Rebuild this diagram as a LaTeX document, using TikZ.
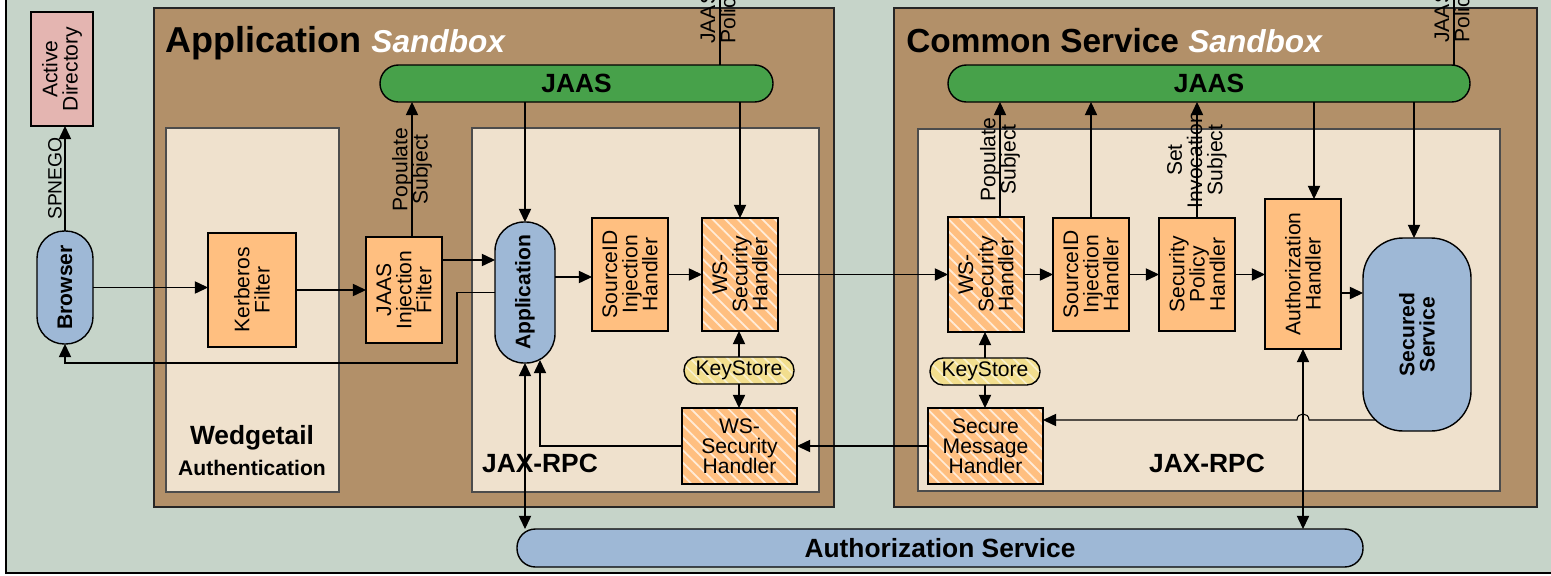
\documentclass[tikz,border=0pt]{standalone}
\usepackage{fontspec}
\setmainfont{Liberation Sans}
\usepackage{xcolor}
\usepackage{tikz}
\usetikzlibrary{shapes,arrows.meta,patterns.meta}

\definecolor{bgcol}{HTML}{C6D4C9}
\definecolor{sandcol}{HTML}{B29069}
\definecolor{innercol}{HTML}{EFE1CD}
\definecolor{handlercol}{HTML}{FFBF80}
\definecolor{svccol}{HTML}{9EB8D6}
\definecolor{jaascol}{HTML}{47A14A}
\definecolor{dircol}{HTML}{E4B5B1}
\definecolor{keycol}{HTML}{F2DE8E}

\tikzset{size/.style 2 args={minimum width=#1*0.02cm, minimum height=#2*0.02cm}}
\tikzstyle{box}=[rectangle, draw=black, line width=0.8pt, inner sep=0pt, outer sep=0pt]
\tikzstyle{handler}=[box, fill=handlercol]
\tikzstyle{hatched}=[box, preaction={fill=handlercol}, pattern={Lines[angle=-45,distance=5pt,line width=1pt]}, pattern color=white!70!handlercol]
\tikzstyle{keystore}=[box, rounded corners=7.5pt, preaction={fill=keycol}, pattern={Lines[angle=-45,distance=5pt,line width=1pt]}, pattern color=white!55!keycol]
\tikzstyle{svc}=[box, fill=svccol]
\tikzstyle{jaas}=[box, fill=jaascol, rounded corners=10.5pt]
\tikzstyle{sandbox}=[draw=black!85, line width=1.1pt, fill=sandcol]
\tikzstyle{innerbox}=[draw=black!70, line width=0.6pt, fill=innercol]
\tikzstyle{wire}=[draw, line width=0.6pt]
\tikzstyle{arr}=[wire, -{Triangle[length=7.5pt,width=7pt]}]
\tikzstyle{darr}=[wire, {Triangle[length=7.5pt,width=7pt]}-{Triangle[length=7.5pt,width=7pt]}]
\tikzstyle{txt}=[font=\fontsize{12}{11.5}\selectfont, align=center, inner sep=0pt]
\tikzstyle{vtxt}=[txt, rotate=90]
\tikzstyle{vbold}=[vtxt, font=\bfseries\fontsize{12}{11.5}\selectfont]
\tikzstyle{bold}=[txt, font=\bfseries\fontsize{12}{14}\selectfont]
\tikzstyle{bigbold}=[txt, font=\bfseries\fontsize{15}{18}\selectfont]

\begin{document}
\begin{tikzpicture}[x=0.02cm, y=-0.02cm]
    \useasboundingbox (0,0) rectangle (1551,575);
    \clip (0,0) rectangle (1551,575);
    \filldraw[fill=bgcol, draw=black, line width=1.2pt] (6,-20) rectangle (1600,573);

    \draw[sandbox] (154,8) rectangle (834,507);
    \draw[sandbox] (894,8) rectangle (1537,507);
    \draw[innerbox] (166,128) rectangle (339,492);
    \draw[innerbox] (472,128) rectangle (819,492);
    \draw[innerbox] (918,129) rectangle (1500,491);

    \node[anchor=base west, inner sep=0pt] (apptitle) at (165,52)
        {\fontsize{20.5}{24}\selectfont\bfseries Application \textcolor{white}{\fontsize{18}{22}\selectfont\itshape Sandbox}};
    \node[anchor=base west, inner sep=0pt] (cstitle) at (906,52)
        {\fontsize{19}{24}\selectfont\bfseries Common Service \textcolor{white}{\fontsize{18}{22}\selectfont\itshape Sandbox}};
    \node[bigbold] (wedge) at (252,438) {Wedgetail};
    \node[bold] (wedgeauth) at (252,468) {Authentication};
    \node[bigbold] (jaxL) at (540,463) {JAX-RPC};
    \node[bigbold] (jaxR) at (1207,463) {JAX-RPC};

    \node[box, fill=dircol, size={62}{114}, label={[vtxt]center:{Active\\Directory}}] (ad) at (62,69) {};
    \node[svc, rounded corners=15.5pt, size={56}{113}, label={[vbold]center:Browser}] (browser) at (65,287.5) {};
    \node[handler, size={88}{114}, label={[vtxt]center:{Kerberos\\Filter}}] (kerb) at (252,290) {};
    \node[handler, size={76}{106}, label={[vtxt]center:{JAAS\\Injection\\Filter}}] (jinj) at (404,290) {};
    \node[svc, rounded corners=16.5pt, size={60}{141}, label={[vbold]center:Application}] (app) at (525,292.5) {};
    \node[handler, size={76}{113}, label={[vtxt]center:{SourceID\\Injection\\Handler}}] (srcidL) at (630,274.5) {};
    \node[hatched, size={76}{113}, label={[vtxt]center:{WS-\\Security\\Handler}}] (wssecL) at (740,274.5) {};
    \node[keystore, size={110}{27}, label={[txt]center:KeyStore}] (keyL) at (739,370.5) {};
    \node[hatched, size={115}{76}, label={[txt]center:{WS-\\Security\\Handler}}] (wssecL2) at (739.5,446) {};
    \node[jaas, size={393}{37}, label={[bigbold]center:JAAS}] (jaasL) at (576.5,83.5) {};

    \node[jaas, size={522}{37}, label={[bigbold]center:JAAS}] (jaasR) at (1209,83.5) {};
    \node[hatched, size={76}{115}, label={[vtxt]center:{WS-\\Security\\Handler}}] (wssecR) at (986,274.5) {};
    \node[handler, size={76}{113}, label={[vtxt]center:{SourceID\\Injection\\Handler}}] (srcidR) at (1091,274.5) {};
    \node[handler, size={76}{113}, label={[vtxt]center:{Security\\Policy\\Handler}}] (secpol) at (1197,274.5) {};
    \node[handler, size={76}{150}, label={[vtxt]center:{Authorization\\Handler}}] (authh) at (1303,274) {};
    \node[svc, rounded corners=22.8pt, size={108}{193}, label={[vbold]center:{Secured\\Service}}] (secsvc) at (1417,334.5) {};
    \node[keystore, size={110}{27}, label={[txt]center:KeyStore}] (keyR) at (985,371.5) {};
    \node[hatched, size={115}{76}, label={[txt]center:{Secure\\Message\\Handler}}] (smh) at (985.5,446) {};
    \node[svc, rounded corners=10.5pt, size={846}{38}, label={[bigbold]center:Authorization Service}] (authsvc) at (940,548) {};

    \draw[arr] (browser.north) -- (browser.north |- ad.south)
        node[midway, vtxt, anchor=south, inner sep=1.5pt, font=\fontsize{11}{13}\selectfont] (spnego) {SPNEGO};
    \draw[arr] (browser.east) -- (browser.east -| kerb.west);
    \draw[arr] (kerb.east) -- (kerb.east -| jinj.west);
    \draw[arr] (jinj.east |- 0,260) -- (app.west |- 0,260);
    \draw[arr] (app.west) -| (457,363) -| (browser.south);
    \draw[arr] (412,0 |- jinj.north) -- (412,0 |- jaasL.south) node[midway, vtxt] (popL) {Populate\\Subject};
    \draw[arr] (app.north |- jaasL.south) -- (app.north);
    \draw[arr] (wssecL.north |- jaasL.south) -- (wssecL.north);
    \coordinate (polLend) at (720,-20);
    \draw[wire] (720,0 |- jaasL.north) -- (polLend);
    \node[vtxt, align=left, anchor=west] (polL) at (720,44) {JAAS\\Policy};
    \draw[arr] (app.east |- 0,277) -- (srcidL.west |- 0,277);
    \draw[arr] (srcidL.east) -- (wssecL.west);
    \draw[arr] (wssecL.east) -- (wssecR.west);
    \draw[arr] (keyL.north) -- (keyL.north |- wssecL.south);
    \draw[arr] (keyL.south) -- (keyL.south |- wssecL2.north);
    \coordinate (appin) at (540,360);
    \draw[arr] (wssecL2.west) -| (appin);
    \draw[darr] (app.south) -- (app.south |- authsvc.north);

    \draw[arr] (1000,0 |- wssecR.north) -- (1000,0 |- jaasR.south) node[midway, vtxt] (popR) {Populate\\Subject};
    \draw[arr] (srcidR.north) -- (srcidR.north |- jaasR.south);
    \draw[arr] (secpol.north) -- (secpol.north |- jaasR.south) node[midway, vtxt] (setinv) {Set\\Invocation\\Subject};
    \draw[arr] (1314,0 |- jaasR.south) -- (1314,0 |- authh.north);
    \draw[arr] (1414,0 |- jaasR.south) -- (1414,0 |- secsvc.north);
    \coordinate (polRend) at (1454,-20);
    \draw[wire] (1454,0 |- jaasR.north) -- (polRend);
    \node[vtxt, align=left, anchor=west] (polR) at (1454,43) {JAAS\\Policy};
    \draw[arr] (wssecR.east) -- (srcidR.west);
    \draw[arr] (srcidR.east) -- (secpol.west);
    \draw[arr] (secpol.east) -- (secpol.east -| authh.west);
    \draw[arr] (authh.east |- 0,293) -- (secsvc.west |- 0,293);
    \draw[arr] (keyR.north) -- (keyR.north |- wssecR.south);
    \draw[arr] (keyR.south) -- (keyR.south |- smh.north);
    \coordinate (secout) at (1376,420);
    \draw[arr] (secout) -- (1309,420) .. controls (1309,412) and (1297,412) .. (1297,420) -- (smh.east |- 0,420);
    \draw[arr] (smh.west) -- (smh.west -| wssecL2.east);
    \draw[darr] (authh.south) -- (authh.south |- authsvc.north);
\end{tikzpicture}
\end{document}
